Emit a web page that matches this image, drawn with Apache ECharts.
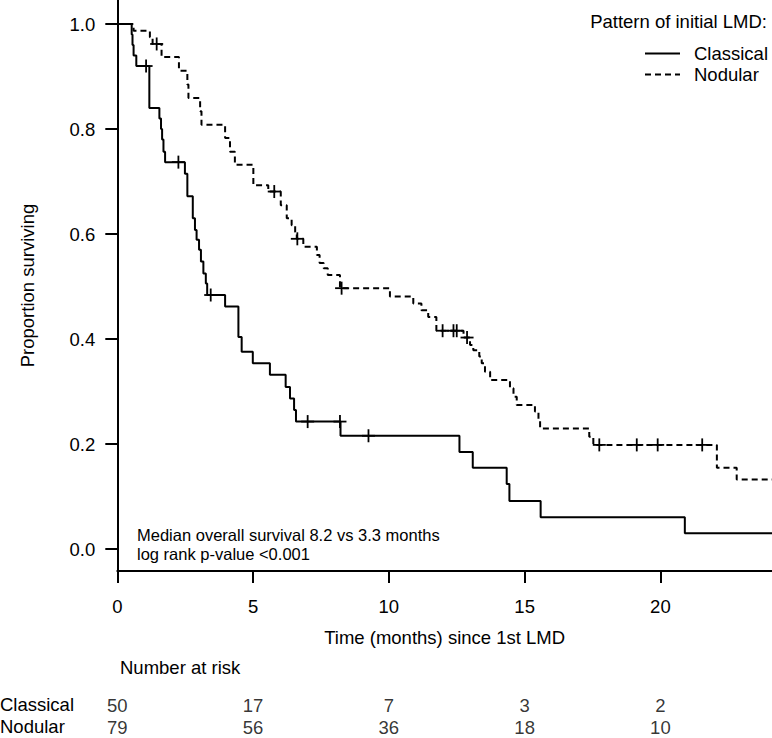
<!DOCTYPE html>
<html>
<head>
<meta charset="utf-8">
<script src="https://cdn.jsdelivr.net/npm/echarts@6/dist/echarts.min.js"></script>
<style>
html,body{margin:0;padding:0;background:#fff;}
#chart{width:772px;height:738px;}
</style>
</head>
<body>
<div id="chart"></div>
<script>
// ---- data ----
const classicalTimes = [0, 0.53, 0.56, 0.60, 0.70, 1.18, 1.55, 1.61, 1.65, 1.70, 1.76, 2.49, 2.58, 2.78, 2.86, 2.92, 3.01, 3.08, 3.17, 3.26, 3.31, 3.97, 4.46, 4.58, 4.99, 5.62, 6.20, 6.36, 6.51, 6.58, 8.22, 12.60, 13.09, 14.34, 14.44, 15.59, 20.90, 24.11];
const classicalSurv  = [1.0, 0.98, 0.96, 0.94, 0.92, 0.84, 0.82, 0.80, 0.78, 0.757, 0.737, 0.715, 0.672, 0.630, 0.608, 0.589, 0.570, 0.548, 0.525, 0.506, 0.484, 0.462, 0.404, 0.376, 0.354, 0.332, 0.309, 0.287, 0.265, 0.243, 0.216, 0.185, 0.155, 0.124, 0.092, 0.061, 0.0305, 0.0305];
const classicalCensorTimes = [1.06, 2.25, 3.44, 7.01, 8.20, 9.25];
const classicalCensorSurv  = [0.92, 0.737, 0.484, 0.243, 0.243, 0.216];

const nodularTimes = [0, 0.60, 1.20, 1.30, 1.63, 2.27, 2.58, 2.62, 3.05, 3.10, 3.97, 4.15, 4.33, 5.01, 5.56, 6.02, 6.24, 6.42, 6.55, 6.61, 6.85, 7.35, 7.45, 7.60, 7.75, 8.20, 10.04, 10.90, 11.20, 11.45, 11.75, 12.75, 12.99, 13.11, 13.33, 13.42, 13.54, 13.73, 14.46, 14.59, 14.71, 15.38, 15.51, 15.57, 17.38, 17.53, 22.08, 22.81, 24.11];
const nodularSurv  = [1.0, 0.987, 0.975, 0.962, 0.937, 0.911, 0.885, 0.859, 0.834, 0.808, 0.783, 0.757, 0.732, 0.693, 0.681, 0.655, 0.630, 0.617, 0.604, 0.591, 0.576, 0.560, 0.545, 0.535, 0.522, 0.497, 0.481, 0.468, 0.455, 0.442, 0.416, 0.403, 0.389, 0.379, 0.367, 0.354, 0.338, 0.322, 0.3065, 0.2905, 0.2747, 0.262, 0.246, 0.230, 0.2143, 0.1986, 0.155, 0.1325, 0.1325];
const nodularCensorTimes = [1.45, 5.78, 6.63, 8.26, 11.98, 12.38, 12.50, 12.88, 17.75, 19.13, 19.90, 21.54];
const nodularCensorSurv  = [0.962, 0.681, 0.591, 0.497, 0.416, 0.416, 0.416, 0.403, 0.1986, 0.1986, 0.1986, 0.1986];

const xTicks = [0, 5, 10, 15, 20];
const yTicks = [0, 0.2, 0.4, 0.6, 0.8, 1.0];
const riskTimes = [0, 5, 10, 15, 20];
const riskClassical = [50, 17, 7, 3, 2];
const riskNodular = [79, 56, 36, 18, 10];
const seriesNames = ['Classical', 'Nodular'];
const legendTitle = 'Pattern of initial LMD:';
const annotationLines = ['Median overall survival 8.2 vs 3.3 months', 'log rank p-value <0.001'];

// ---- chart ----
const FONT = '"Liberation Sans", Arial, Helvetica, sans-serif';
const zip = (a, b) => a.map((v, i) => [v, b[i]]);

const crossRender = function (params, api) {
  const p = api.coord([api.value(0), api.value(1)]);
  const h = 6.5;
  return {
    type: 'group',
    children: [
      { type: 'line', shape: { x1: p[0] - h, y1: p[1], x2: p[0] + h, y2: p[1] }, style: { stroke: '#000', lineWidth: 1.8 } },
      { type: 'line', shape: { x1: p[0], y1: p[1] - h, x2: p[0], y2: p[1] + h }, style: { stroke: '#000', lineWidth: 1.8 } }
    ]
  };
};

const riskData = [];
riskTimes.forEach((t, i) => {
  riskData.push([t, 0.75, riskClassical[i]]);
  riskData.push([t, 0.25, riskNodular[i]]);
});

const chart = echarts.init(document.getElementById('chart'), null, { renderer: 'svg' });
chart.setOption({
  animation: false,
  backgroundColor: '#fff',
  textStyle: { fontFamily: FONT, color: '#000' },
  grid: [
    { left: 117.3, top: 0, width: 654.7, height: 571 },
    { left: 117.3, top: 694, width: 654.7, height: 44 }
  ],
  xAxis: [
    {
      type: 'value', gridIndex: 0, min: 0, max: 24.11,
      axisLine: { onZero: false, lineStyle: { color: '#000', width: 2 } },
      axisTick: { customValues: xTicks, length: 12, lineStyle: { color: '#000', width: 2 } },
      axisLabel: { customValues: xTicks, margin: 26, fontSize: 18.5, color: '#000', fontFamily: FONT, formatter: v => String(v) },
      splitLine: { show: false },
      name: 'Time (months) since 1st LMD', nameLocation: 'middle', nameGap: 57,
      nameTextStyle: { fontSize: 18.5, color: '#000', fontFamily: FONT }
    },
    { type: 'value', gridIndex: 1, min: 0, max: 24.11, show: false }
  ],
  yAxis: [
    {
      type: 'value', gridIndex: 0, min: -0.0415, max: 1.0457,
      axisLine: { onZero: false, lineStyle: { color: '#000', width: 2 } },
      axisTick: { customValues: yTicks, length: 12, lineStyle: { color: '#000', width: 2 } },
      axisLabel: { customValues: yTicks, margin: 22, fontSize: 18.5, color: '#000', fontFamily: FONT, formatter: v => v.toFixed(1) },
      splitLine: { show: false },
      name: 'Proportion surviving', nameLocation: 'middle', nameGap: 80,
      nameTextStyle: { fontSize: 18.5, color: '#000', fontFamily: FONT }
    },
    { type: 'value', gridIndex: 1, min: 0, max: 1, show: false }
  ],
  legend: {
    orient: 'vertical', left: 639, top: 39,
    itemWidth: 35, itemHeight: 14, itemGap: 2,
    data: seriesNames,
    itemStyle: { opacity: 0 },
    textStyle: { fontSize: 18.5, color: '#000', fontFamily: FONT, padding: [0, 0, 0, 9] }
  },
  graphic: [
    { type: 'text', right: 5, top: 12, style: { text: legendTitle, fontSize: 18.5, fill: '#000', fontFamily: FONT } },
    { type: 'text', left: 137, top: 526, style: { text: annotationLines.join('\n'), fontSize: 16.5, lineHeight: 18.5, fill: '#000', fontFamily: FONT } },
    { type: 'text', left: 120, top: 658, style: { text: 'Number at risk', fontSize: 18.5, fill: '#000', fontFamily: FONT } },
    { type: 'text', left: 0, top: 695, style: { text: seriesNames[0], fontSize: 18.5, fill: '#000', fontFamily: FONT } },
    { type: 'text', left: 0, top: 717, style: { text: seriesNames[1], fontSize: 18.5, fill: '#000', fontFamily: FONT } }
  ],
  series: [
    {
      name: seriesNames[0], type: 'line', step: 'end', symbol: 'none',
      data: zip(classicalTimes, classicalSurv),
      lineStyle: { color: '#000', width: 2 }, itemStyle: { color: '#000' }
    },
    {
      name: seriesNames[1], type: 'line', step: 'end', symbol: 'none',
      data: zip(nodularTimes, nodularSurv),
      lineStyle: { color: '#000', width: 2, type: [6, 4] }, itemStyle: { color: '#000' }
    },
    { type: 'custom', renderItem: crossRender, data: zip(classicalCensorTimes, classicalCensorSurv), silent: true },
    { type: 'custom', renderItem: crossRender, data: zip(nodularCensorTimes, nodularCensorSurv), silent: true },
    {
      type: 'scatter', xAxisIndex: 1, yAxisIndex: 1, symbolSize: 1, itemStyle: { color: 'transparent' },
      data: riskData,
      label: { show: true, position: 'inside', formatter: p => String(p.value[2]), fontSize: 18.5, color: '#000', fontFamily: FONT }
    }
  ]
});
</script>
</body>
</html>
